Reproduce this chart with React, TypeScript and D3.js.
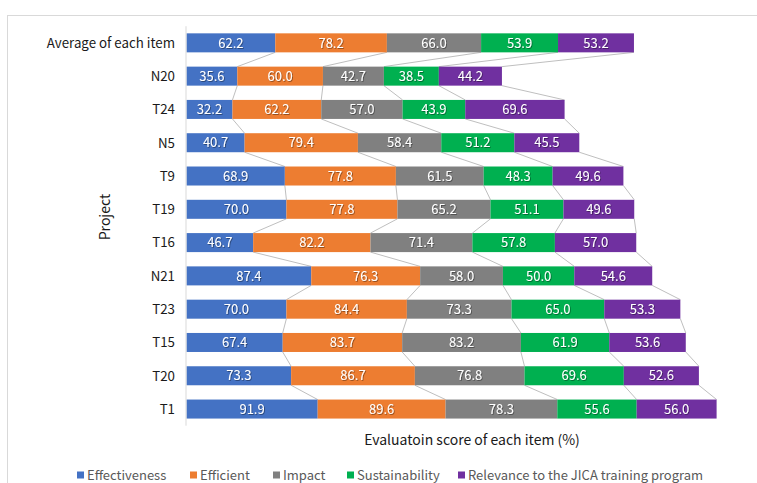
import React from "react";
import * as d3 from "d3";

const categories = ["Average of each item", "N20", "T24", "N5", "T9", "T19", "T16", "N21", "T23", "T15", "T20", "T1"];
const seriesNames = ["Effectiveness", "Efficient", "Impact", "Sustainability", "Relevance to the JICA training program"];
const effectiveness = [62.2, 35.6, 32.2, 40.7, 68.9, 70.0, 46.7, 87.4, 70.0, 67.4, 73.3, 91.9];
const efficient = [78.2, 60.0, 62.2, 79.4, 77.8, 77.8, 82.2, 76.3, 84.4, 83.7, 86.7, 89.6];
const impact = [66.0, 42.7, 57.0, 58.4, 61.5, 65.2, 71.4, 58.0, 73.3, 83.2, 76.8, 78.3];
const sustainability = [53.9, 38.5, 43.9, 51.2, 48.3, 51.1, 57.8, 50.0, 65.0, 61.9, 69.6, 55.6];
const relevance = [53.2, 44.2, 69.6, 45.5, 49.6, 49.6, 57.0, 54.6, 53.3, 53.6, 52.6, 56.0];
const seriesColors = ["#4472C4", "#ED7D31", "#808080", "#00B050", "#7030A0"];

const W = 757;
const H = 483;
const FONT = "'Noto Sans CJK JP', 'Noto Sans', sans-serif";

export default function App() {
  const rows = categories.map((c, i) => ({
    cat: c,
    vals: [effectiveness[i], efficient[i], impact[i], sustainability[i], relevance[i]],
  }));
  const keys = [0, 1, 2, 3, 4];
  const stacked = d3
    .stack<any, number>()
    .keys(keys as any)
    .value((d: any, k: any) => d.vals[k])(rows as any);

  const x = d3.scaleLinear().domain([0, 400]).range([186.5, 186.5 + 400 * 1.4273]);
  const y = d3
    .scaleBand<string>()
    .domain(categories)
    .range([26.2, 425.7])
    .paddingInner(0.429)
    .paddingOuter(0.2145);
  const bw = y.bandwidth();

  const seriesLines: { x1: number; y1: number; x2: number; y2: number }[] = [];
  stacked.forEach((layer: any) => {
    for (let i = 0; i < categories.length - 1; i++) {
      const a = layer[i];
      const b = layer[i + 1];
      seriesLines.push({
        x1: x(a[1]),
        y1: (y(categories[i]) as number) + bw,
        x2: x(b[1]),
        y2: y(categories[i + 1]) as number,
      });
    }
  });

  const legendX = [77, 190, 273, 347, 458];
  const legendY = 475;

  return (
    <svg
      width={W}
      height={H}
      style={{ position: "absolute", left: 0, top: 0, background: "#fff" }}
      fontFamily={FONT}
    >
      <defs>
        <filter id="shadow" x="-20%" y="-50%" width="140%" height="200%">
          <feDropShadow dx="0.8" dy="0.8" stdDeviation="0.6" floodColor="#000" floodOpacity="0.45" />
        </filter>
      </defs>
      <rect x={0} y={0} width={W} height={H} fill="#fff" />
      <rect x={7.5} y={15.5} width={W + 20} height={H + 20} fill="none" stroke="#d9d9d9" strokeWidth={1} />

      <g stroke="#bfbfbf" strokeWidth={1}>
        {seriesLines.map((l, i) => (
          <line key={i} x1={l.x1} y1={l.y1} x2={l.x2} y2={l.y2} />
        ))}
      </g>

      {stacked.map((layer: any, si: number) => (
        <g key={si} fill={seriesColors[si]}>
          {layer.map((d: any, i: number) => (
            <rect
              key={i}
              x={x(d[0])}
              y={y(categories[i]) as number}
              width={x(d[1]) - x(d[0])}
              height={bw}
            />
          ))}
        </g>
      ))}

      <g fill="#fff" fontSize={13} textAnchor="middle" filter="url(#shadow)">
        {stacked.map((layer: any, si: number) =>
          layer.map((d: any, i: number) => (
            <text
              key={si + "-" + i}
              x={(x(d[0]) + x(d[1])) / 2}
              y={(y(categories[i]) as number) + bw / 2}
              dy="0.36em"
            >
              {rows[i].vals[si].toFixed(1)}
            </text>
          ))
        )}
      </g>

      <line x1={186} x2={186} y1={26.2} y2={425.7} stroke="#d9d9d9" strokeWidth={1} />

      <g fill="#1a1a1a" fontSize={13.3} textAnchor="end">
        {categories.map((c) => (
          <text key={c} x={175} y={(y(c) as number) + bw / 2} dy="0.36em">
            {c}
          </text>
        ))}
      </g>

      <text x={472} y={440} dy="0.36em" textAnchor="middle" fontSize={14} fill="#1a1a1a">
        Evaluatoin score of each item (%)
      </text>
      <text
        transform="translate(105,217) rotate(-90)"
        dy="0.36em"
        textAnchor="middle"
        fontSize={14}
        fill="#1a1a1a"
      >
        Project
      </text>

      <g fontSize={13} fill="#595959">
        {seriesNames.map((n, i) => (
          <g key={n} transform={`translate(${legendX[i]},${legendY})`}>
            <rect x={0} y={-3.5} width={7} height={7} fill={seriesColors[i]} />
            <text x={10} y={0} dy="0.36em">
              {n}
            </text>
          </g>
        ))}
      </g>
    </svg>
  );
}
